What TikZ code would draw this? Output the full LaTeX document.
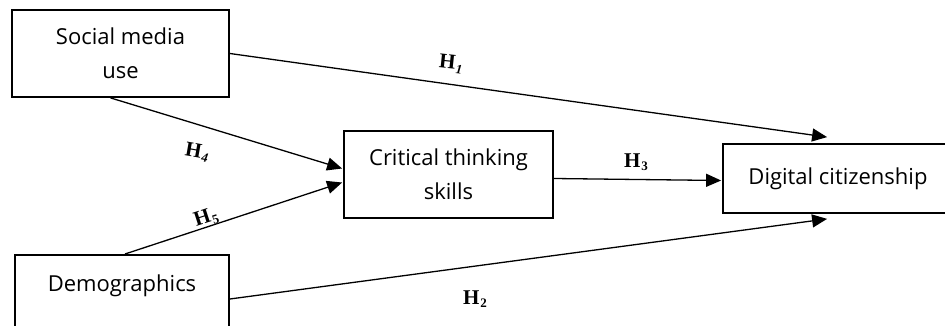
\documentclass[tikz,border=0pt]{standalone}
\usepackage{fontspec}
\setmainfont{Liberation Serif}
\newfontfamily\boxfont{Open Sans}
\usetikzlibrary{arrows.meta,calc}
\newcommand\hyp[2]{H\kern1pt\raisebox{-0.35ex}{\fontsize{13}{13}\selectfont #1#2}}
\begin{document}
\begin{tikzpicture}[x=1pt,y=-1pt,
  box/.style={draw,line width=1.8pt,font=\boxfont\fontsize{22}{34}\selectfont,align=center,inner sep=0pt},
  conn/.style={line width=1.3pt,-{Triangle[length=15pt,width=13pt]}},
  hlab/.style={font=\fontsize{21}{21}\selectfont\bfseries,inner sep=0pt}]
\useasboundingbox (0,0) rectangle (945,326);
\node[box,minimum width=217pt,minimum height=87pt] (sm) at (120.5,53.5) {Social media\\use};
\node[box,minimum width=209pt,minimum height=87pt] (ct) at (448.5,174.5) {Critical thinking\\skills};
\node[box,minimum width=230pt,minimum height=69pt] (dc) at (838,178.5) {Digital citizenship};
\node[box,anchor=north,minimum width=214pt,text height=16pt,text depth=64pt,inner ysep=21pt] (dm) at (122,254) {Demographics};
\coordinate (h1end) at ($(dc.north west)+(105,-6)$);
\coordinate (h2end) at ($(dc.south west)+(105,5)$);
\draw[conn] (sm.east) -- (h1end);
\draw[conn] ($(sm.south)+(-10,0)$) -- ($(ct.west)+(-1,-6)$);
\draw[conn] ($(dm.north)+(3,0)$) -- ($(ct.west)+(-1,8)$);
\draw[conn] ($(ct.east)+(0,4)$) -- ($(dc.west)+(-1,2)$);
\draw[conn] ($(dm.north east)+(0,45)$) -- (h2end);
\node[hlab,rotate=-6] (l1) at (451,64) {\hyp{\itshape}{1}};
\node[hlab,rotate=-10] (l4) at (197,152) {\hyp{\itshape}{4}};
\node[hlab,rotate=18] (l5) at (206,218) {\hyp{}{5}};
\node[hlab] (l3) at (636,162) {\hyp{}{3}};
\node[hlab] (l2) at (475,299) {\hyp{}{2}};
\end{tikzpicture}
\end{document}
